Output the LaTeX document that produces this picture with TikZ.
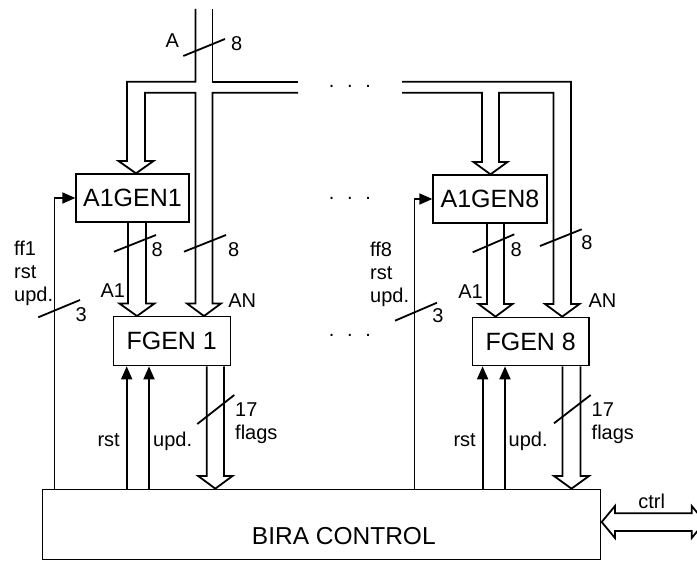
\documentclass[tikz,border=0pt]{standalone}
\usepackage{fontspec}
\setmainfont{Liberation Sans}
\usetikzlibrary{arrows.meta}
\newcommand\labfont{\fontsize{20}{23}\selectfont}
\newcommand\boxfont{\fontsize{25}{30}\selectfont}
\newcommand\threedots{.\kern12.7pt.\kern12.7pt.}
\begin{document}
\begin{tikzpicture}[x=1pt,y=-1pt,
  every node/.style={inner sep=0pt,font=\labfont},
  blk/.style={draw,line width=1.3pt,font=\boxfont,inner sep=0pt},
  bus/.style={draw,line width=1.8pt,line join=miter},
  sig/.style={draw,line width=1.8pt,-{Triangle[length=13pt,width=11pt]}},
  tick/.style={draw,line width=1.8pt}]
\useasboundingbox (0,0) rectangle (697,561);
\clip (0,0) rectangle (697,561);

% boxes
\node[blk,minimum width=113pt,minimum height=48pt] (a1gen1) at (132.5,198) {A1GEN1};
\node[blk,minimum width=114pt,minimum height=48pt] (a1gen8) at (490,199) {A1GEN8};
\node[blk,minimum width=117pt,minimum height=49pt] (fgen1) at (171.7,341.2) {FGEN 1};
\node[blk,minimum width=116.7pt,minimum height=48.4pt] (fgen8) at (530.7,341.5) {FGEN 8};
\node[blk,minimum width=558.2pt,minimum height=70pt] (bira) at (321.6,524.3) {};
\node[font=\fontsize{24.5}{29}\selectfont] (biratext) at (343.8,536.5) {BIRA CONTROL};

% top bus, block 1
\draw[bus] (195.5,9) -- (195.5,81.7) -- (127,81.7) -- (127,161) -- (118.5,161)
  -- (136,0 |- a1gen1.north) -- (153.5,161) -- (145,161) -- (145,92.7)
  -- (195.5,92.7) -- (195.5,303.5) -- (187,303.5) -- (204,0 |- fgen1.north)
  -- (221,303.5) -- (212.5,303.5) -- (212.5,92.7) -- (298,92.7);
\draw[bus] (212.5,9) -- (212.5,81.7) -- (298,81.7);

% top bus, block 8
\draw[bus] (402,92.7) -- (482,92.7) -- (482,162) -- (473.5,162)
  -- (490.5,0 |- a1gen8.north) -- (507.5,162) -- (499,162) -- (499,92.7)
  -- (553.5,92.7) -- (553.5,304) -- (545,304) -- (562.2,0 |- fgen8.north)
  -- (579.5,304) -- (571,304) -- (571,81.7) -- (402,81.7);

% A1 arrows
\draw[bus] (128,0 |- a1gen1.south) -- (128,303.5) -- (119.5,303.5) -- (137,0 |- fgen1.north)
  -- (154.5,303.5) -- (146,303.5) -- (146,0 |- a1gen1.south);
\draw[bus] (487,0 |- a1gen8.south) -- (487,304) -- (478.5,304) -- (495.5,0 |- fgen8.north)
  -- (512.5,304) -- (504,304) -- (504,0 |- a1gen8.south);

% flags arrows
\draw[bus] (206.7,0 |- fgen1.south) -- (206.7,476) -- (198.2,476) -- (215.3,0 |- bira.north)
  -- (232.5,476) -- (224,476) -- (224,0 |- fgen1.south);
\draw[bus] (562.5,0 |- fgen8.south) -- (562.5,476) -- (554,476) -- (571.5,0 |- bira.north)
  -- (589,476) -- (580.5,476) -- (580.5,0 |- fgen8.south);

% ctrl double arrow
\draw[bus] (691.7,513.3) -- (615,513.3) -- (615,506) -- (601.7,522) -- (615,538)
  -- (615,531) -- (691.7,531) -- (691.7,538) -- (705,522) -- (691.7,506) -- cycle;

% thin signal arrows
\draw[sig] (54.5,0 |- bira.north) |- (a1gen1.west);
\draw[sig] (414.5,0 |- bira.north) |- (a1gen8.west);
\draw[sig] (126.7,0 |- bira.north) -- (126.7,0 |- fgen1.south);
\draw[sig] (149,0 |- bira.north) -- (149,0 |- fgen1.south);
\draw[sig] (482.6,0 |- bira.north) -- (482.6,0 |- fgen8.south);
\draw[sig] (505,0 |- bira.north) -- (505,0 |- fgen8.south);

% width ticks
\draw[tick] (183.3,56) -- (225,39);
\draw[tick] (38.3,317.3) -- (80,300);
\draw[tick] (114,251.7) -- (156,235);
\draw[tick] (184,251.7) -- (226,235);
\draw[tick] (197.3,424) -- (234.3,395);
\draw[tick] (395,320.7) -- (437,302.7);
\draw[tick] (472.7,252.3) -- (514.3,234.3);
\draw[tick] (540,246) -- (581.7,229.3);
\draw[tick] (554,423.3) -- (590.7,395);

% labels
\node (lA) at (172.3,40.5) {A};
\node (lA8) at (236.7,43.3) {8};
\node (l3a) at (81.2,315) {3};
\node (l3b) at (438,315.5) {3};
\node (l8a) at (157.3,249.2) {8};
\node (l8b) at (233.7,249.2) {8};
\node (l8c) at (516.3,249.2) {8};
\node (l8d) at (587,242.5) {8};
\node (lA1a) at (112.8,290.7) {A1};
\node (lA1b) at (470.5,291.7) {A1};
\node (lANa) at (242.2,300.5) {AN};
\node (lANb) at (602.5,301) {AN};
\node[anchor=base west] (ff1) at (14,255.5) {ff1};
\node[anchor=base west] (rst1) at (14,278.5) {rst};
\node[anchor=base west] (upd1) at (14,301.5) {upd.};
\node[anchor=base west] (ff8) at (370,256.5) {ff8};
\node[anchor=base west] (rst8) at (370,279.5) {rst};
\node[anchor=base west] (upd8) at (370,302.5) {upd.};
\node[anchor=base west] (n17a) at (235,416.7) {17};
\node[anchor=base west] (fla) at (235,439.5) {flags};
\node[anchor=base west] (n17b) at (591.5,416.7) {17};
\node[anchor=base west] (flb) at (591.5,440) {flags};
\node[anchor=base east] (rsta) at (120,447) {rst};
\node[anchor=base west] (upda) at (153,447) {upd.};
\node[anchor=base east] (rstb) at (476,447) {rst};
\node[anchor=base west] (updb) at (508.5,447) {upd.};
\node[anchor=base] (ctrl) at (651.7,508.3) {ctrl};

% ellipses
\node[anchor=base] (d1) at (350,87.7) {\threedots};
\node[anchor=base] (d2) at (350,200) {\threedots};
\node[anchor=base] (d3) at (350,337) {\threedots};
\end{tikzpicture}
\end{document}
